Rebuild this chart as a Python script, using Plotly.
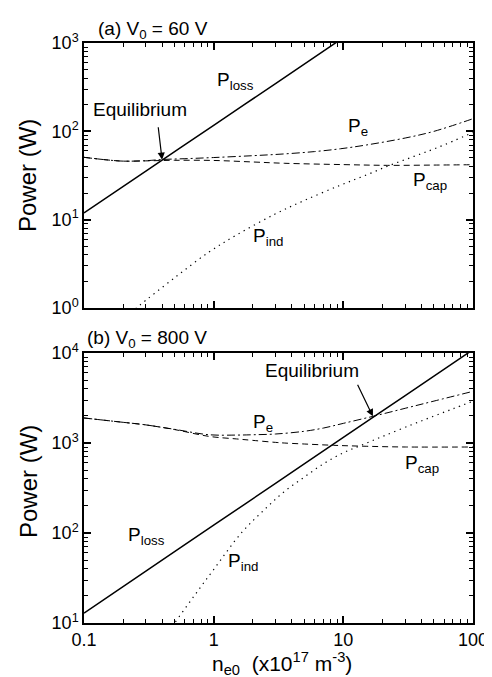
import plotly.graph_objects as go
import math

# ---------------- data ----------------
# Panel (a) V0 = 60 V
xa_loss = [0.1, 0.3, 1, 3, 10]
pa_loss = [11.9, 35.4, 117, 347, 1150]

xa_e = [0.1, 0.15, 0.2, 0.3, 0.4, 0.6, 1, 2, 3.5, 6, 9.5, 15, 30, 50, 100]
pa_e = [50.8, 47.5, 46.0, 46.5, 48.0, 49.0, 50.5, 53.0, 55.5, 59.0, 63.5, 70.0, 84.0, 100.0, 139.0]

xa_cap = [0.1, 0.15, 0.2, 0.3, 0.5, 1, 2, 3.5, 10, 22, 50, 100]
pa_cap = [50.8, 47.5, 46.0, 46.3, 47.0, 46.8, 45.0, 43.5, 42.0, 41.2, 41.5, 41.9]

xa_ind = [0.25, 0.27, 0.5, 0.92, 1.5, 2.95, 5, 9.45, 15, 22.6, 35, 54, 100]
pa_ind = [0.98, 1.08, 2.2, 4.3, 6.7, 11.5, 16.5, 24.5, 32.0, 41.0, 52.0, 66.0, 97.0]

# Panel (b) V0 = 800 V
xb_loss = [0.1, 0.3, 1, 3, 10, 30, 100]
pb_loss = [12.9, 37.7, 122, 356, 1155, 3370, 10900]

xb_e = [0.1, 0.2, 0.29, 0.5, 0.92, 1.5, 2, 3, 5, 7.05, 10, 16.9, 30, 50, 100]
pb_e = [1897, 1698, 1600, 1419, 1236, 1225, 1235, 1259, 1350, 1468, 1653, 1978, 2431, 2923, 3750]

xb_cap = [0.1, 0.2, 0.29, 0.5, 0.92, 1.5, 2, 3, 3.5, 5, 8.4, 15, 30, 100]
pb_cap = [1897, 1698, 1600, 1410, 1185, 1110, 1070, 1016, 1000, 975, 943, 920, 903, 903]

xb_ind = [0.48, 0.5, 0.7, 1, 1.65, 2.5, 3.5, 5, 7.05, 10, 13.4, 20, 34, 50, 70, 100]
pb_ind = [9.2, 10, 19.6, 39.3, 101.7, 185.7, 287.7, 418, 589, 779, 929, 1181, 1606, 1993, 2398, 2918]

# equilibrium points
eq_a = (0.40, 47.7)
eq_b = (16.9, 1978)

# tick label text for the decade ticks
ya_labels = {"1": "10<sup>0</sup>", "10": "10<sup>1</sup>", "100": "10<sup>2</sup>", "1000": "10<sup>3</sup>"}
yb_labels = {"10": "10<sup>1</sup>", "100": "10<sup>2</sup>", "1000": "10<sup>3</sup>",
             "10,000": "10<sup>4</sup>", "10000": "10<sup>4</sup>"}

# ---------------- figure ----------------
FONT = "Liberation Sans, Arial, Helvetica, sans-serif"
fig = go.Figure()

LOSS = dict(color="black", width=1.5)
PE = dict(color="black", width=1, dash="8px,3px,2px,3px")
PCAP = dict(color="black", width=1, dash="6px,4px")
PIND = dict(color="black", width=1.2, dash="1.3px,4.5px")

series = [
    (xa_loss, pa_loss, LOSS, "x", "y"),
    (xa_e, pa_e, PE, "x", "y"),
    (xa_cap, pa_cap, PCAP, "x", "y"),
    (xa_ind, pa_ind, PIND, "x", "y"),
    (xb_loss, pb_loss, LOSS, "x2", "y2"),
    (xb_e, pb_e, PE, "x2", "y2"),
    (xb_cap, pb_cap, PCAP, "x2", "y2"),
    (xb_ind, pb_ind, PIND, "x2", "y2"),
]
for xs, ys, ln, xn, yn in series:
    fig.add_trace(go.Scatter(x=xs, y=ys, mode="lines", line=ln, line_shape="spline",
                             xaxis=xn, yaxis=yn, showlegend=False, hoverinfo="skip"))


def axis_common():
    return dict(type="log", showline=True, linecolor="black", linewidth=1.5,
                mirror="allticks", ticks="inside", ticklen=7, tickwidth=1.5,
                tickcolor="black", showgrid=False, zeroline=False,
                tickmode="linear", tick0=0, dtick=1, exponentformat="none",
                tickfont=dict(family=FONT, size=18, color="black"),
                minor=dict(ticks="inside", ticklen=4, tickwidth=1.2, tickcolor="black",
                           showgrid=False))


DOM_A = [0.5431, 1]
DOM_B = [0, 0.4655]

xa = axis_common()
xa.update(range=[-1, 2], domain=[0, 1], anchor="y", showticklabels=False)
xb = axis_common()
xb.update(range=[-1, 2], domain=[0, 1], anchor="y2")
ya = axis_common()
ya.update(range=[0, 3], domain=DOM_A, anchor="x", labelalias=ya_labels)
yb = axis_common()
yb.update(range=[1, 4], domain=DOM_B, anchor="x2", labelalias=yb_labels)

L, R, T, B, W, H = 76, 20, 35, 62, 492, 677
PW, PH = W - L - R, H - T - B


def px2x(px):
    return (px - L) / PW


def py2y(py):
    return 1 - (py - T) / PH


ann = []


def label(text, px, py, size=19):
    ann.append(dict(text=text, xref="paper", yref="paper", x=px2x(px), y=py2y(py),
                    xanchor="left", yanchor="middle", showarrow=False,
                    font=dict(family=FONT, size=size, color="black")))


# panel titles
label("(a) V<sub>0</sub> = 60 V", 88, 22, 19)
label("(b) V<sub>0</sub> = 800 V", 77, 331, 19)

# curve labels panel (a)
label("P<sub>loss</sub>", 209, 73)
label("P<sub>e</sub>", 343, 119)
label("P<sub>cap</sub>", 409, 173)
label("P<sub>ind</sub>", 246, 229)
label("Equilibrium", 83, 102, 19)
# curve labels panel (b)
label("P<sub>e</sub>", 246, 415)
label("P<sub>cap</sub>", 401, 456)
label("P<sub>loss</sub>", 119, 528)
label("P<sub>ind</sub>", 221, 554)
label("Equilibrium", 258, 362, 19)

# arrows
ann.append(dict(x=math.log10(eq_a[0]), y=math.log10(eq_a[1]), xref="x", yref="y", text="",
                showarrow=True, arrowhead=2, arrowsize=1.2, arrowwidth=1.2, arrowcolor="black",
                ax=-4, ay=-34, standoff=0))
ann.append(dict(x=math.log10(eq_b[0]), y=math.log10(eq_b[1]), xref="x2", yref="y2", text="",
                showarrow=True, arrowhead=2, arrowsize=1.2, arrowwidth=1.2, arrowcolor="black",
                ax=-16, ay=-33, standoff=0))

# axis titles
ann.append(dict(text="Power (W)", xref="paper", yref="paper", x=px2x(19), y=py2y(168),
                xanchor="center", yanchor="middle", textangle=-90, showarrow=False,
                font=dict(family=FONT, size=24, color="black")))
ann.append(dict(text="Power (W)", xref="paper", yref="paper", x=px2x(19), y=py2y(474),
                xanchor="center", yanchor="middle", textangle=-90, showarrow=False,
                font=dict(family=FONT, size=24, color="black")))
ann.append(dict(text="n<sub>e0</sub>  (x10<sup>17</sup> m<sup>-3</sup>)", xref="paper", yref="paper",
                x=px2x(278), y=py2y(655), xanchor="center", yanchor="middle", showarrow=False,
                font=dict(family=FONT, size=21, color="black")))

fig.update_layout(
    width=W, height=H, margin=dict(l=L, r=R, t=T, b=B, pad=0),
    paper_bgcolor="white", plot_bgcolor="white",
    xaxis=xa, yaxis=ya, xaxis2=xb, yaxis2=yb,
    annotations=ann, showlegend=False,
    font=dict(family=FONT, color="black"),
)

fig.write_html("out.html")
